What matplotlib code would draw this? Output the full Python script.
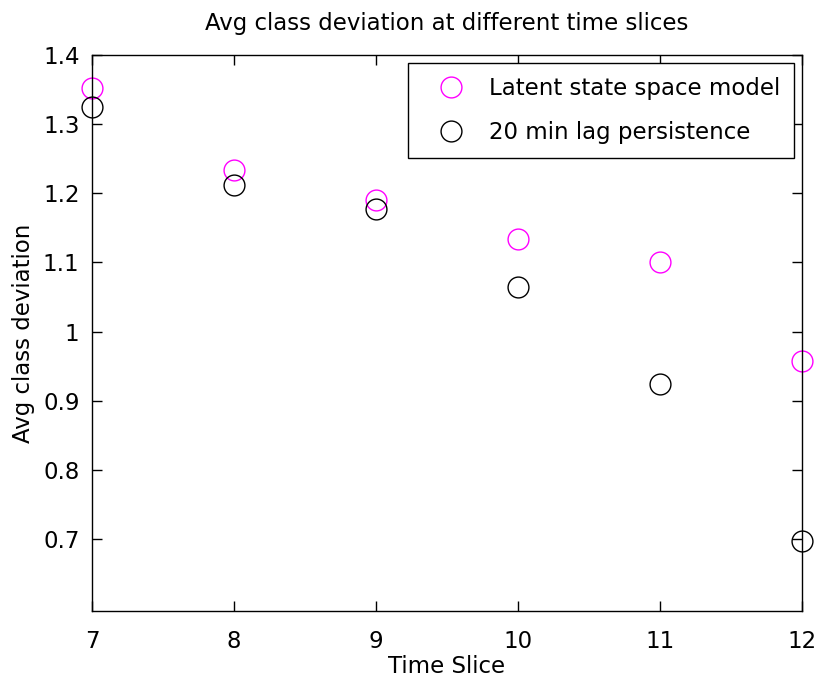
import matplotlib.pyplot as plt
import numpy as np

plt.rcParams['font.family'] = ['DejaVu Sans']

time_slice = [7, 8, 9, 10, 11, 12]
latent = [1.352, 1.234, 1.190, 1.134, 1.101, 0.957]
persist = [1.325, 1.212, 1.178, 1.064, 0.924, 0.697]

fig = plt.figure(figsize=(8.21, 6.87), dpi=100)
ax = fig.add_axes([92/821, 1 - 611/687, 710/821, 556/687])

ax.plot(time_slice, latent, 'o', mfc='none', mec='#ff00ff', ms=15, mew=1.0,
        label='Latent state space model', clip_on=False)
ax.plot(time_slice, persist, 'o', mfc='none', mec='black', ms=15, mew=1.0,
        label='20 min lag persistence', clip_on=False)

ax.set_xlim(7, 12)
ax.set_ylim(0.596, 1.4)
ax.set_xticks(time_slice)
ax.set_yticks([0.7, 0.8, 0.9, 1.0, 1.1, 1.2, 1.3, 1.4])
ax.set_yticklabels(['0.7', '0.8', '0.9', '1', '1.1', '1.2', '1.3', '1.4'])
ax.tick_params(direction='in', length=7, width=1, top=True, right=True,
               labelsize=16.5)
ax.tick_params(axis='x', pad=14)
ax.tick_params(axis='y', pad=9)
for s in ax.spines.values():
    s.set_linewidth(1.0)

ax.set_title('Avg class deviation at different time slices', fontsize=16.5, pad=18)
ax.set_xlabel('Time Slice', fontsize=16.5, labelpad=1)
ax.set_ylabel('Avg class deviation', fontsize=16.5, labelpad=6)

leg = ax.legend(loc='upper right', fontsize=16.5, fancybox=False, edgecolor='black',
                framealpha=1, borderaxespad=0.37, handletextpad=0.34,
                borderpad=0.6, labelspacing=0.9, handlelength=2.56)
leg.get_frame().set_linewidth(1.0)

fig.savefig('out.png', dpi=100)
